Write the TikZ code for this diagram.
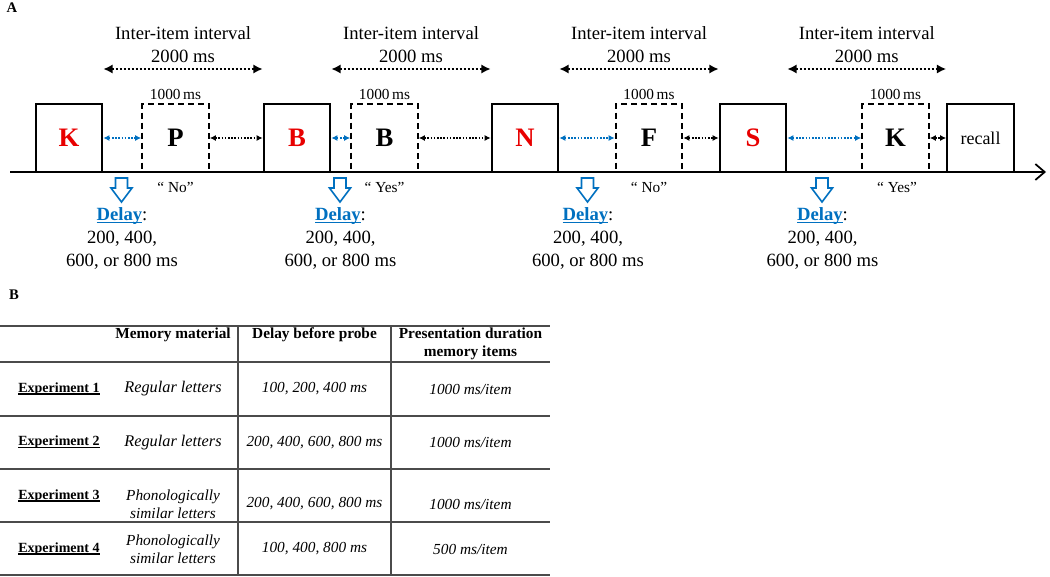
\documentclass[tikz,border=0pt]{standalone}
\usepackage{fontspec}
\setmainfont{Liberation Serif}
\usetikzlibrary{arrows.meta,calc}
\definecolor{dblue}{RGB}{0,112,192}
\definecolor{ired}{RGB}{232,0,0}
\definecolor{tgray}{RGB}{75,75,75}
\newcommand{\myul}[2]{\setbox0\hbox{#2}\rlap{\rule[#1]{\wd0}{0.8pt}}\box0}
\begin{document}
\begin{tikzpicture}[x=0.75pt,y=-0.75pt,
  itembox/.style={draw, line width=1.5pt, minimum width=50pt, minimum height=51pt, inner sep=0pt, font=\fontsize{20}{24}\selectfont\bfseries},
  probebox/.style={itembox, dash pattern=on 4.5pt off 3pt},
  redtxt/.style={text=ired},
  bigarr/.style={line width=1.5pt, dash pattern=on 1.5pt off 1.5pt, {Latex[length=7pt,width=7pt]}-{Latex[length=7pt,width=7pt]}},
  bluearr/.style={dblue, line width=1pt, dash pattern=on 1.2pt off 1.2pt, {Latex[length=4.5pt,width=4.5pt]}-{Latex[length=4.5pt,width=4.5pt]}},
  blackarr/.style={black, line width=1pt, dash pattern=on 1.2pt off 1.2pt, {Latex[length=4.5pt,width=4.5pt]}-{Latex[length=4.5pt,width=4.5pt]}},
  iilabel/.style={align=center, font=\fontsize{14}{17.25}\selectfont, inner sep=0pt},
  mslabel/.style={font=\fontsize{11.5}{13}\selectfont, inner sep=0pt},
  resp/.style={font=\fontsize{11.5}{13}\selectfont, inner sep=0pt},
  delaylbl/.style={align=center, font=\fontsize{14}{17}\selectfont, inner sep=0pt},
  panel/.style={font=\fontsize{11}{13}\selectfont\bfseries, inner sep=0pt},
  thead/.style={align=center, font=\fontsize{11.5}{13.5}\selectfont\bfseries, inner sep=0pt},
  tcell/.style={align=center, font=\fontsize{11.5}{13.5}\selectfont\itshape, inner sep=0pt},
  tcellb/.style={align=center, font=\fontsize{12.2}{13.5}\selectfont\itshape, inner sep=0pt},
  texp/.style={font=\fontsize{10.5}{12}\selectfont\bfseries, inner sep=0pt},
  tline/.style={tgray, line width=1.1pt},
  pics/downarr/.style={code={
    \draw[dblue, line width=1.2pt, fill=white, line join=miter]
      (-6,0) -- (6,0) -- (6,10) -- (10.5,10) -- (0,24) -- (-10.5,10) -- (-6,10) -- cycle;}}
]
\useasboundingbox (0,0) rectangle (1050,576);

% panel labels
\node[panel] (lA) at (12,8) {A};
\node[panel] (lB) at (14,295) {B};

% timeline
\coordinate (tl0) at (10,172);
\coordinate (tl1) at (1046,172);
\draw[line width=1.5pt, -{Straight Barb[length=7pt,width=12pt,line width=1.3pt]}] (tl0) -- (tl1);

% boxes
\node[itembox, redtxt] (k1) at (69,138) {K};
\node[probebox] (p1) at (175.5,138) {P};
\node[itembox, redtxt] (b1) at (297,138) {B};
\node[probebox] (p2) at (384.5,138) {B};
\node[itembox, redtxt] (n1) at (525,138) {N};
\node[probebox] (p3) at (649,138) {F};
\node[itembox, redtxt] (s1) at (753,138) {S};
\node[probebox] (p4) at (895.5,138) {K};
\node[itembox, font=\fontsize{13.5}{16}\selectfont] (rc) at (980.5,138) {recall};

% 1000 ms labels
\foreach \p in {p1,p2,p3,p4}{
  \node[mslabel, anchor=south] (ms\p) at ([yshift=2pt]\p.north) {1000\,ms};
}

% small connectors
\draw[bluearr] (k1.east) -- (p1.west);
\draw[blackarr] (p1.east) -- (b1.west);
\draw[bluearr] (b1.east) -- (p2.west);
\draw[blackarr] (p2.east) -- (n1.west);
\draw[bluearr] (n1.east) -- (p3.west);
\draw[blackarr] (p3.east) -- (s1.west);
\draw[bluearr] (s1.east) -- (p4.west);
\draw[blackarr] (p4.east) -- (rc.west);

% inter-item interval arrows
\foreach \a/\b/\n in {k1/b1/1, b1/n1/2, n1/s1/3, s1/rc/4}{
  \coordinate (ia\n) at ([yshift=25.5pt]\a.north east);
  \coordinate (ib\n) at ([yshift=25.5pt]\b.north west);
  \draw[bigarr] (ia\n) -- (ib\n);
  \node[iilabel] (ii\n) at ($(ia\n)!0.5!(ib\n)+(0,-24.5)$) {Inter-item interval\\2000 ms};
}

% responses
\node[resp] (r1) at (175.5,187) {“ No”};
\node[resp] (r2) at (384.5,187) {“ Yes”};
\node[resp] (r3) at (649,187) {“ No”};
\node[resp] (r4) at (897,187) {“ Yes”};

% delay arrows and labels
\foreach \x/\n in {121.5/1, 340/2, 587.5/3, 822/4}{
  \pic at (\x,178) {downarr};
  \node[delaylbl] (d\n) at (\x+0.5,238.5) {\textcolor{dblue}{\myul{-1.8pt}{\textbf{Delay}}}:\\200, 400,\\600, or 800 ms};
}

% table
\draw[tline] (0,326) -- (550,326);
\draw[tline] (0,362) -- (550,362);
\draw[tline] (0,416) -- (550,416);
\draw[tline] (0,469) -- (550,469);
\draw[tline] (0,522) -- (550,522);
\draw[tline] (0,575) -- (550,575);
\draw[tline] (238,326) -- (238,575);
\draw[tline] (391,326) -- (391,575);

\node[thead] (h1) at (173,335) {Memory material};
\node[thead] (h2) at (314.5,335) {Delay before probe};
\node[thead] (h3) at (470.5,344) {Presentation duration\\memory items};

\node[texp] (e1) at (59,389) {\myul{-1.6pt}{Experiment 1}};
\node[texp] (e2) at (59,442.5) {\myul{-1.6pt}{Experiment 2}};
\node[texp] (e3) at (59,496) {\myul{-1.6pt}{Experiment 3}};
\node[texp] (e4) at (59,549) {\myul{-1.6pt}{Experiment 4}};

\node[tcellb] (m1) at (173,389) {Regular letters};
\node[tcellb] (m2) at (173,442.5) {Regular letters};
\node[tcell] (m3) at (173,504) {Phonologically\\similar letters};
\node[tcell] (m4) at (173,549) {Phonologically\\similar letters};

\node[tcell] (q1) at (314.5,389) {100, 200, 400 ms};
\node[tcell] (q2) at (314.5,442.5) {200, 400, 600, 800 ms};
\node[tcell] (q3) at (314.5,504) {200, 400, 600, 800 ms};
\node[tcell] (q4) at (314.5,549) {100, 400, 800 ms};

\node[tcell] (w1) at (470.5,389) {1000 ms/item};
\node[tcell] (w2) at (470.5,442.5) {1000 ms/item};
\node[tcell] (w3) at (470.5,504) {1000 ms/item};
\node[tcell] (w4) at (470.5,549) {500 ms/item};
\end{tikzpicture}
\end{document}
